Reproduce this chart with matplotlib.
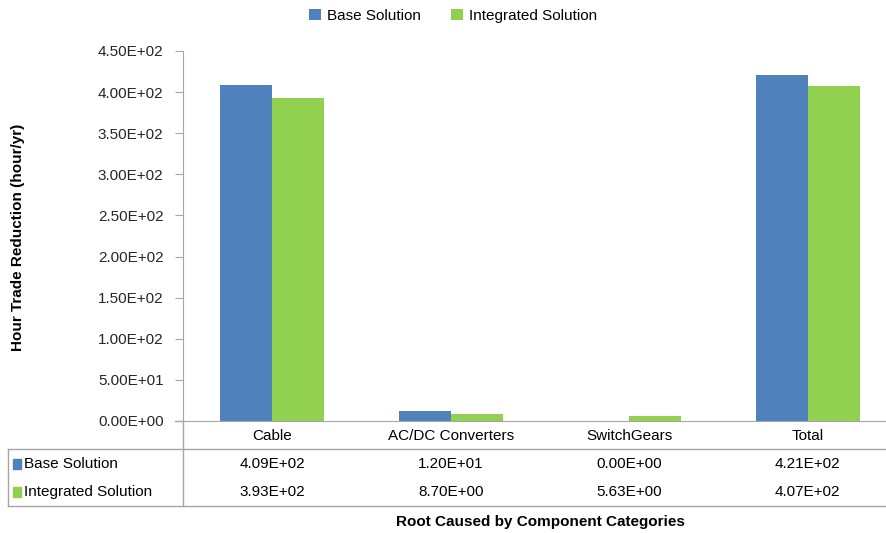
import matplotlib.pyplot as plt
import numpy as np
from matplotlib.lines import Line2D
from matplotlib.patches import Rectangle
from matplotlib import font_manager

categories = ['Cable', 'AC/DC Converters', 'SwitchGears', 'Total']
series_names = ['Base Solution', 'Integrated Solution']
base_vals = [409, 12.0, 0.0, 421]
integ_vals = [393, 8.70, 5.63, 407]
yticks = [0, 50, 100, 150, 200, 250, 300, 350, 400, 450]

colors = ['#4F81BD', '#92D050']
edge_col = '#A6A6A6'

names = {f.name for f in font_manager.fontManager.ttflist}
fam = 'Liberation Sans Narrow' if 'Liberation Sans Narrow' in names else 'Liberation Sans'
plt.rcParams['font.family'] = [fam, 'DejaVu Sans']

W, H = 886, 533
fig = plt.figure(figsize=(W / 100, H / 100), dpi=100)

def fx(px):
    return px / W

def fy(py):
    return 1 - py / H

# axes: left spine at x=183, y=0 at 421, y=450 at 51
ax = fig.add_axes([fx(183), fy(421), fx(897) - fx(183), fy(51) - fy(421)])
x = np.arange(len(categories))
bw = 0.29
ax.bar(x - bw / 2, base_vals, bw, color=colors[0], label=series_names[0])
ax.bar(x + bw / 2, integ_vals, bw, color=colors[1], label=series_names[1])
ax.set_xlim(-0.5, len(categories) - 0.5)
ax.set_ylim(0, 450)
ax.set_yticks(yticks)
ax.set_yticklabels(['%.2E' % v for v in yticks], fontsize=11, color='#262626')
ax.tick_params(axis='y', length=6, color=edge_col, pad=8)
ax.set_xticks([])
for s in ['top', 'right']:
    ax.spines[s].set_visible(False)
ax.spines['left'].set_color(edge_col)
ax.spines['bottom'].set_color(edge_col)
ax.spines['left'].set_bounds(0, 450)

# category labels and table cells, placed at the data x positions
trans = ax.get_xaxis_transform()
def ay(py):
    return (fy(py) - fy(421)) / (fy(51) - fy(421))

for i, c in enumerate(categories):
    ax.text(x[i], ay(436), c, transform=trans, ha='center', va='center',
            fontsize=11, clip_on=False)
    ax.text(x[i], ay(464), '%.2E' % base_vals[i], transform=trans,
            ha='center', va='center', fontsize=11, clip_on=False)
    ax.text(x[i], ay(492), '%.2E' % integ_vals[i], transform=trans,
            ha='center', va='center', fontsize=11, clip_on=False)

# table lines
lines = [
    ((fx(183), fx(183)), (fy(421), fy(506))),
    ((fx(175), fx(183)), (fy(421), fy(421))),
    ((fx(8), fx(886)), (fy(449), fy(449))),
    ((fx(8), fx(886)), (fy(506), fy(506))),
    ((fx(8), fx(8)), (fy(449), fy(506))),
]
for xs, ys in lines:
    fig.add_artist(Line2D(xs, ys, color=edge_col, lw=1))

# row headers with color keys
for k, (py, name) in enumerate([(464, series_names[0]), (492, series_names[1])]):
    fig.add_artist(Rectangle((fx(13), fy(py + 5)), fx(8), fy(py - 5) - fy(py + 5),
                             color=colors[k], transform=fig.transFigure))
    fig.text(fx(24), fy(py), name, ha='left', va='center', fontsize=11)

# legend
leg = fig.legend(loc='upper center', bbox_to_anchor=(fx(453), fy(-5)), ncol=2,
                 frameon=False, fontsize=11, handlelength=0.75, handleheight=0.75,
                 handletextpad=0.4, columnspacing=2.0)

fig.text(fx(18), fy(237), 'Hour Trade Reduction (hour/yr)', rotation=90,
         ha='center', va='center', fontsize=11, fontweight='bold')
fig.text(fx(540), fy(522), 'Root Caused by Component Categories',
         ha='center', va='center', fontsize=11, fontweight='bold')

fig.savefig('out.png', dpi=100)
